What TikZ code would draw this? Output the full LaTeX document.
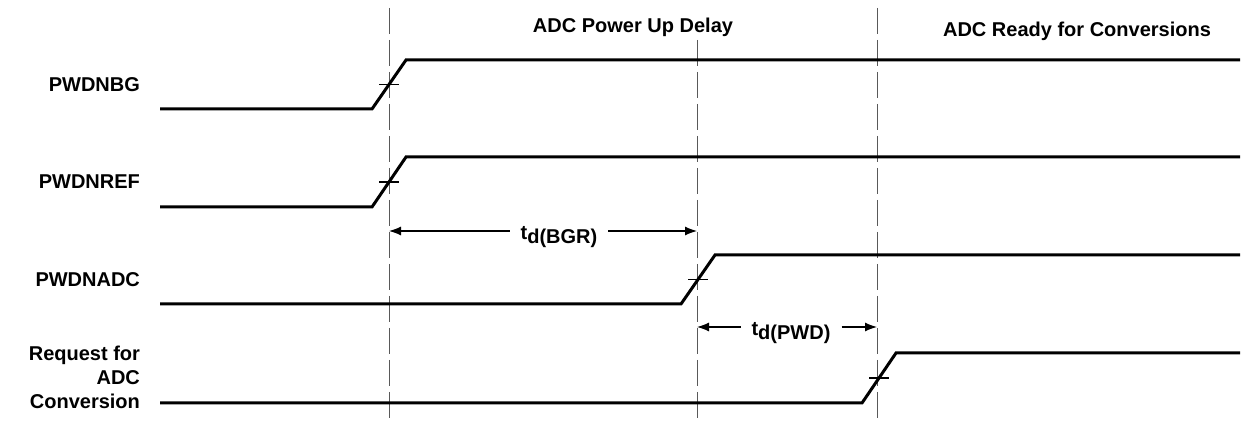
\documentclass[tikz,border=0pt]{standalone}
\usepackage{fontspec}
\setmainfont{Liberation Sans}
\usetikzlibrary{positioning,arrows.meta,calc}

\begin{document}
\begin{tikzpicture}[x=0.5pt, y=-0.5pt,
  every node/.style={font=\bfseries\fontsize{10}{12}\selectfont},
  sig/.style={line width=1.5pt, line join=miter},
  guide/.style={black!65, line width=0.5pt, dash pattern=on 13pt off 3pt},
  dim/.style={-{Latex[length=6pt,width=4.5pt]}, line width=0.6pt}]
  \useasboundingbox (0,0) rectangle (1243,427);
  % phase guides
  \coordinate (g1t) at (389,8);  \coordinate (g1b) at (389,422);
  \coordinate (g2t) at (697,40); \coordinate (g2b) at (697,422);
  \coordinate (g3t) at (877,8);  \coordinate (g3b) at (877,422);
  \foreach \g in {g1,g2,g3}{
    \draw[guide] (\g t) -- (\g b);}
  % signal traces
  \foreach \lo/\hi/\xr in {109/60/372, 207/157/372, 304/255/681, 403/353/862}{
    \draw[sig] (160,\lo) -- (\xr,\lo) -- ++(34,\hi-\lo) -- (1240,\hi);
    \draw[line width=0.6pt] (\xr+7,{(\lo+\hi)/2}) -- ++(20,0);}
  % signal names
  \node[anchor=east] (bg) at (147,85) {PWDNBG};
  \node[anchor=east] (ref) at (147,182) {PWDNREF};
  \node[anchor=east] (adc) at (147,280) {PWDNADC};
  \node[anchor=east, align=right] (req) at (147,377)
    {Request for\\ADC\\Conversion};
  % phase titles
  \node (pup) at (633,27) {ADC Power Up Delay};
  \node (rdy) at (1077,31) {ADC Ready for Conversions};
  % delays
  \coordinate (b1) at (389,231); \coordinate (b2) at (697,231);
  \node (tbgr) at (559,237) {t\raisebox{-0.45ex}{d(BGR)}};
  \draw[dim] (tbgr.west |- b1) ++(-4,0) -- (b1);
  \draw[dim] (tbgr.east |- b2) ++(4,0) -- (b2);
  \coordinate (p1) at (697,327); \coordinate (p2) at (877,327);
  \node (tpwd) at (791,333) {t\raisebox{-0.45ex}{d(PWD)}};
  \draw[dim] (tpwd.west |- p1) ++(-4,0) -- (p1);
  \draw[dim] (tpwd.east |- p2) ++(4,0) -- (p2);
\end{tikzpicture}
\end{document}
